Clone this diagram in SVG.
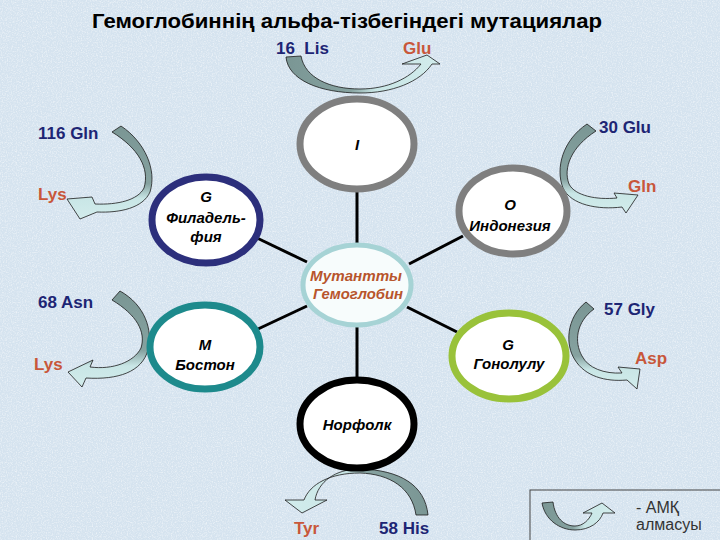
<svg xmlns="http://www.w3.org/2000/svg" width="720" height="540" viewBox="0 0 720 540">
  <defs>
    <filter id="tex" x="0" y="0" width="100%" height="100%">
      <feTurbulence type="fractalNoise" baseFrequency="0.8" numOctaves="2" seed="4"/>
      <feColorMatrix type="matrix" values="0 0 0 0 1  0 0 0 0 1  0 0 0 0 1  1.6 0 0 0 -0.7"/>
    </filter>
    <linearGradient id="gLR" x1="0" y1="0" x2="1" y2="0">
      <stop offset="0" stop-color="#7a9694"/>
      <stop offset="0.42" stop-color="#86a2a0"/>
      <stop offset="0.58" stop-color="#c9e6e6"/>
      <stop offset="1" stop-color="#d2ecec"/>
    </linearGradient>
    <linearGradient id="gRL" x1="1" y1="0" x2="0" y2="0">
      <stop offset="0" stop-color="#7a9694"/>
      <stop offset="0.42" stop-color="#86a2a0"/>
      <stop offset="0.58" stop-color="#c9e6e6"/>
      <stop offset="1" stop-color="#d2ecec"/>
    </linearGradient>
    <linearGradient id="gTB" x1="0" y1="0" x2="0" y2="1">
      <stop offset="0" stop-color="#7a9694"/>
      <stop offset="0.62" stop-color="#86a2a0"/>
      <stop offset="0.78" stop-color="#c9e6e6"/>
      <stop offset="1" stop-color="#d2ecec"/>
    </linearGradient>
    <style>
      .node { fill: #ffffff; stroke-width: 7; }
      .nt { font-family: "Liberation Sans", Arial, sans-serif; font-size: 15px; font-style: italic; font-weight: bold; fill: #000; text-anchor: middle; }
      .lbl { font-family: "Liberation Sans", Arial, sans-serif; font-size: 17px; font-weight: bold; }
      .from { fill: #1d2574; }
      .to { fill: #c8573a; }
      .link { stroke: #000; stroke-width: 3; fill: none; }
      .arr { stroke: #1a1a1a; stroke-width: 0.8; stroke-linejoin: round; }
    </style>
  </defs>

  <rect x="0" y="0" width="720" height="540" fill="#d5e3ef"/>
  <rect x="0" y="0" width="720" height="540" filter="url(#tex)" opacity="0.8"/>

  <text x="92" y="28" textLength="510" lengthAdjust="spacingAndGlyphs" font-family="'Liberation Sans Narrow', 'Liberation Sans', Arial, sans-serif" font-size="20" font-weight="bold" fill="#000">Гемоглобиннің альфа-тізбегіндегі мутациялар</text>

  <g id="connectors">
    <line class="link" x1="357" y1="190" x2="357" y2="245"/>
    <line class="link" x1="357" y1="325" x2="357" y2="380"/>
    <line class="link" x1="257" y1="238" x2="307" y2="262"/>
    <line class="link" x1="409" y1="264" x2="463" y2="236"/>
    <line class="link" x1="258" y1="329" x2="307" y2="306"/>
    <line class="link" x1="407" y1="307" x2="457" y2="332"/>
  </g>

  <g id="mutations">
    <path class="arr" fill="url(#gLR)" d="M286,57 C288,80 320,93 360,93 C392,93 420,82 432,64 L440,64 L427,55 L402,64 L421,64 C410,78 388,89 360,89 C330,89 305,78 301,56 Z"/>
    <path class="arr" fill="url(#gTB)" d="M112,132 L121,126 C145,142 157,170 150,192 C143,208 120,213 97,212 L80,219 L67,199 L92,197 L95,204 C118,205 138,200 144,188 C150,168 138,148 112,132 Z"/>
    <path class="arr" fill="url(#gTB)" d="M112,300 L120,291 C145,305 153,330 148,350 C142,372 118,380 86,378 L82,387 L68,372 L93,360 L90,367 C113,370 134,362 141,348 C146,332 137,315 112,300 Z"/>
    <path class="arr" fill="url(#gTB)" d="M587,124 C563,140 555,168 563,188 C571,205 598,210 622,207 L626,213 L638,195 L614,193 L617,198 C597,200 575,196 569,184 C563,168 571,147 596,131 Z"/>
    <path class="arr" fill="url(#gTB)" d="M586,302 C566,318 565,345 575,360 C585,376 605,382 627,380 L637,389 L640,369 L618,367 L622,373 C604,374 588,368 582,356 C574,342 576,322 594,309 Z"/>
    <path class="arr" fill="url(#gRL)" d="M428,515 C425,485 400,470 360,469 C335,469 318,482 315,500 L327,500 L302,513 L285,500 L304,500 C310,484 330,473 360,473 C390,474 412,488 416,515 Z"/>

    <text class="lbl from" x="276" y="54" style="white-space:pre">16  Lis</text>
    <text class="lbl to" x="403" y="54">Glu</text>
    <text class="lbl from" x="38" y="139">116 Gln</text>
    <text class="lbl to" x="38" y="200">Lys</text>
    <text class="lbl from" x="599" y="133">30 Glu</text>
    <text class="lbl to" x="628" y="192">Gln</text>
    <text class="lbl from" x="38" y="308">68 Asn</text>
    <text class="lbl to" x="34" y="370">Lys</text>
    <text class="lbl from" x="604" y="315">57 Gly</text>
    <text class="lbl to" x="635" y="364">Asp</text>
    <text class="lbl to" x="294" y="534">Tyr</text>
    <text class="lbl from" x="379" y="534">58 His</text>
  </g>

  <g id="node-center">
    <ellipse cx="357" cy="285" rx="54" ry="40" fill="#f7fcfc" stroke="#a6d3d5" stroke-width="5"/>
    <text class="nt" x="356" y="281" style="fill:#b8552c" textLength="92" lengthAdjust="spacingAndGlyphs">Мутантты</text>
    <text class="nt" x="358" y="299" style="fill:#b8552c" textLength="90" lengthAdjust="spacingAndGlyphs">Гемоглобин</text>
  </g>

  <g id="node-I">
    <ellipse class="node" cx="357" cy="144" rx="57" ry="45" stroke="#7f7f7f"/>
    <text class="nt" x="357" y="150">I</text>
  </g>

  <g id="node-philadelphia">
    <ellipse class="node" cx="206" cy="220" rx="54" ry="43" stroke="#2c2f7c"/>
    <text class="nt" x="206" y="202">G</text>
    <text class="nt" x="206" y="223">Филадель-</text>
    <text class="nt" x="206" y="242">фия</text>
  </g>

  <g id="node-indonesia">
    <ellipse class="node" cx="513" cy="211" rx="54" ry="43" stroke="#7f7f7f"/>
    <text class="nt" x="510" y="210">O</text>
    <text class="nt" x="510" y="231">Индонезия</text>
  </g>

  <g id="node-boston">
    <ellipse class="node" cx="205" cy="347" rx="55" ry="42" stroke="#1d8a8c"/>
    <text class="nt" x="205" y="350">M</text>
    <text class="nt" x="205" y="370">Бостон</text>
  </g>

  <g id="node-honolulu">
    <ellipse class="node" cx="509" cy="356" rx="57" ry="43" stroke="#99c23a"/>
    <text class="nt" x="508" y="350">G</text>
    <text class="nt" x="509" y="369">Гонолулу</text>
  </g>

  <g id="node-norfolk">
    <ellipse class="node" cx="357" cy="424" rx="57" ry="44" stroke="#000000"/>
    <text class="nt" x="357" y="430">Норфолк</text>
  </g>

  <g id="legend">
    <rect x="530" y="490" width="200" height="60" fill="none" stroke="#444" stroke-width="1"/>
    <path class="arr" fill="url(#gLR)" d="M542,503 C545,520 560,530 575,530 C590,530 600,522 603,513 L615,513 L602,503 L583,513 L592,513 C589,520 583,526 575,526 C564,526 555,518 553,502 Z"/>
    <text x="636" y="513" font-family="'Liberation Sans', Arial, sans-serif" font-size="16" fill="#333">- АМҚ</text>
    <text x="636" y="530" font-family="'Liberation Sans', Arial, sans-serif" font-size="16" fill="#333">алмасуы</text>
  </g>
</svg>
